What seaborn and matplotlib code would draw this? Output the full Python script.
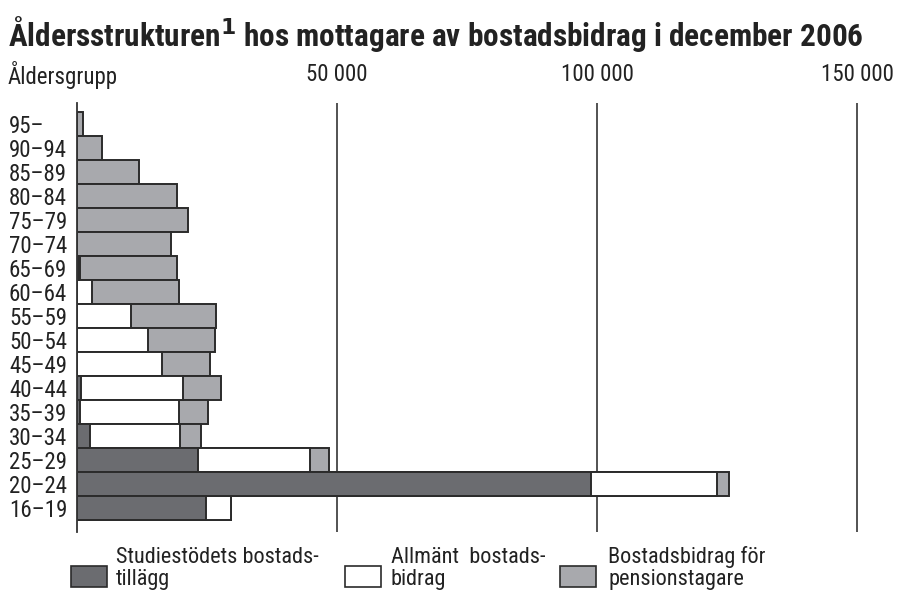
import matplotlib

matplotlib.use("Agg")
import matplotlib.pyplot as plt
import pandas as pd
import seaborn as sns
from matplotlib.font_manager import fontManager
from matplotlib.patches import Rectangle
from matplotlib.ticker import FuncFormatter

# ── data (antal mottagare) ───────────────────────────────────────────────────
groups = ["95–", "90–94", "85–89", "80–84", "75–79", "70–74", "65–69", "60–64",
          "55–59", "50–54", "45–49", "40–44", "35–39", "30–34", "25–29",
          "20–24", "16–19"]
studie = [0, 0, 0, 0, 0, 0, 300, 0, 0, 0, 0, 700, 600, 2500, 23200, 98800, 24800]
allmant = [0, 0, 0, 0, 0, 0, 200, 2900, 10400, 13600, 16300, 19600, 19100,
           17400, 21700, 24300, 4800]
pension = [1100, 4900, 11900, 19300, 21300, 18100, 18800, 16800, 16400, 12900,
           9200, 7300, 5400, 3900, 3600, 2300, 0]
xticks = [50000, 100000, 150000]

C_STUDIE = "#6b6c70"
C_ALLM = "#ffffff"
C_PENS = "#a8a9ad"
EDGE = "#2b2b2b"
TXT = "#222222"

sns.set_style("white")
avail = {f.name for f in fontManager.ttflist}
narrow = [f for f in ["Liberation Sans Narrow", "Roboto Condensed", "Open Sans",
                      "Roboto"] if f in avail]
plt.rcParams["font.family"] = narrow[:1] + ["DejaVu Sans"]
plt.rcParams["mathtext.fontset"] = "dejavusans"

df = pd.DataFrame({"grupp": groups, "studie": studie,
                   "allmant": allmant, "pension": pension})
df["cum1"] = df["studie"]
df["cum2"] = df["studie"] + df["allmant"]
df["cum3"] = df["cum2"] + df["pension"]

fig = plt.figure(figsize=(8.99, 5.90), dpi=100)
ax = fig.add_axes([77 / 899, 1 - 532 / 590, (883 - 77) / 899, (532 - 103) / 590])

# stacked bars: draw cumulative totals back to front
for col, color in [("cum3", C_PENS), ("cum2", C_ALLM), ("cum1", C_STUDIE)]:
    sns.barplot(data=df, x=col, y="grupp", order=groups, orient="h",
                color=color, saturation=1, width=1.0, edgecolor=EDGE,
                linewidth=1.4, ax=ax, zorder=3)

ax.set_xlim(0, 155000)
ax.set_ylim(17.0, -0.875)
ax.set_xticks(xticks)
ax.xaxis.set_major_formatter(FuncFormatter(lambda v, p: f"{int(v):,}".replace(",", " ")))
ax.xaxis.tick_top()
ax.tick_params(axis="x", length=0, pad=12, labelsize=16.5, colors=TXT)
ax.tick_params(axis="y", length=0, pad=49, labelsize=16.5, colors=TXT)
for lab in ax.get_yticklabels():
    lab.set_ha("left")
ax.set_xlabel("")
ax.set_ylabel("")
for v in xticks:
    ax.axvline(v, color="#444444", linewidth=1.3, zorder=1)
for s in ["top", "right", "bottom"]:
    ax.spines[s].set_visible(False)
ax.spines["left"].set_color("#333333")
ax.spines["left"].set_linewidth(1.3)
ax.spines["left"].set_zorder(4)

fig.text(8 / 899, 1 - 34 / 590,
         r"Åldersstrukturen$^{\mathbf{1}}$ hos mottagare av bostadsbidrag i december 2006",
         fontsize=22.5, fontweight="bold", va="center", ha="left", color=TXT)
fig.text(8 / 899, 1 - 75 / 590, "Åldersgrupp", fontsize=16.5, va="center",
         ha="left", color=TXT)

# legend
legend_items = [(71, 116, C_STUDIE, "Studiestödets bostads-\ntillägg"),
                (345, 391, C_ALLM, "Allmänt  bostads-\nbidrag"),
                (560, 608, C_PENS, "Bostadsbidrag för\npensionstagare")]
for px, tx, color, label in legend_items:
    fig.add_artist(Rectangle((px / 899, 1 - 587 / 590), 36 / 899, 21 / 590,
                             transform=fig.transFigure, facecolor=color,
                             edgecolor=EDGE, linewidth=1.2))
    fig.text(tx / 899, 1 - 590 / 590, label, fontsize=16, va="bottom",
             ha="left", linespacing=1.05, color=TXT)

fig.savefig("out.png", dpi=100)
